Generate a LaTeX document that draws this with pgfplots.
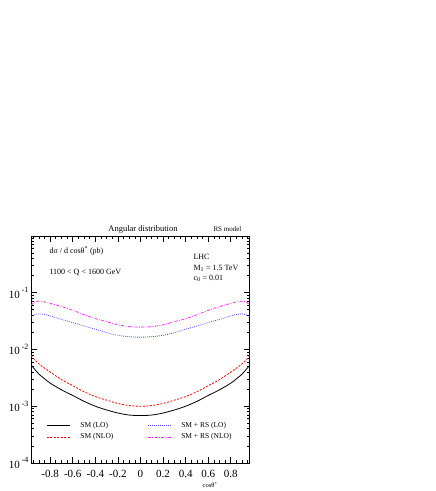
\documentclass[border=0pt]{standalone}
\usepackage{fontspec}
\setmainfont{Liberation Serif}
\usepackage{pgfplots}
\pgfplotsset{compat=1.18}
\definecolor{rslo}{RGB}{70,70,255}
\definecolor{rsnlo}{RGB}{240,40,240}
\begin{document}
\begin{tikzpicture}[x=1pt,y=1pt]
\path[use as bounding box] (0,0) rectangle (436,491);
\begin{axis}[
  at={(31pt,28pt)}, anchor=south west,
  scale only axis, width=219pt, height=227pt,
  xmin=-0.97, xmax=0.97,
  ymode=log, ymin=1e-4, ymax=1,
  axis line style={line width=1pt},
  xtick={-0.8,-0.6,-0.4,-0.2,0,0.2,0.4,0.6,0.8},
  xticklabels={-0.8,-0.6,-0.4,-0.2,0,0.2,0.4,0.6,0.8},
  minor xtick={-0.95,-0.9,-0.85,-0.75,-0.7,-0.65,-0.55,-0.5,-0.45,-0.35,-0.3,-0.25,-0.15,-0.1,-0.05,0.05,0.1,0.15,0.25,0.3,0.35,0.45,0.5,0.55,0.65,0.7,0.75,0.85,0.9,0.95},
  ytick={1e-4,1e-3,1e-2,1e-1},
  yticklabels={10\,\raisebox{1.1ex}{\footnotesize -4},10\,\raisebox{1.1ex}{\footnotesize -3},10\,\raisebox{1.1ex}{\footnotesize -2},10\,\raisebox{1.1ex}{\footnotesize -1}},
  minor ytick={2e-4,3e-4,4e-4,5e-4,6e-4,7e-4,8e-4,9e-4,2e-3,3e-3,4e-3,5e-3,6e-3,7e-3,8e-3,9e-3,2e-2,3e-2,4e-2,5e-2,6e-2,7e-2,8e-2,9e-2,0.2,0.3,0.4,0.5,0.6,0.7,0.8,0.9},
  major tick length=6pt, minor tick length=3pt,
  tick style={black, line width=0.7pt},
  tick label style={font=\fontsize{11}{13}\selectfont},
  xticklabel style={yshift=-4pt},
  yticklabel style={xshift=1pt},
  legend style={draw=none, fill=none, at={(axis description cs:0.07,0.19)}, anchor=north west,
    font=\fontsize{7.5}{9}\selectfont, row sep=1pt, column sep=8pt, inner sep=0pt,
    /tikz/every even column/.append style={column sep=32pt}},
  legend columns=2, transpose legend, legend cell align=left,
  legend image code/.code={\draw[#1] (0pt,0pt) -- (23pt,0pt);},
]
\addplot[black, line width=0.8pt, smooth] coordinates {
(-0.97,5.3e-3) (-0.95,4.8e-3) (-0.9,3.7e-3) (-0.85,3.05e-3) (-0.8,2.55e-3) (-0.7,1.95e-3) (-0.6,1.55e-3) (-0.5,1.22e-3) (-0.4,1.0e-3) (-0.3,8.6e-4) (-0.2,7.6e-4) (-0.1,7.0e-4) (0,6.85e-4)
(0.1,7.0e-4) (0.2,7.6e-4) (0.3,8.6e-4) (0.4,1.0e-3) (0.5,1.22e-3) (0.6,1.55e-3) (0.7,1.95e-3) (0.8,2.55e-3) (0.85,3.05e-3) (0.9,3.7e-3) (0.95,4.8e-3) (0.97,5.3e-3)};
\addlegendentry{SM (LO)}
\addplot[red, line width=0.8pt, smooth, dash pattern=on 2pt off 1.5pt] coordinates {
(-0.97,7.9e-3) (-0.95,7.0e-3) (-0.9,5.6e-3) (-0.85,4.7e-3) (-0.8,4.0e-3) (-0.7,2.95e-3) (-0.6,2.3e-3) (-0.5,1.8e-3) (-0.4,1.48e-3) (-0.3,1.28e-3) (-0.2,1.12e-3) (-0.1,1.03e-3) (0,1.0e-3)
(0.1,1.03e-3) (0.2,1.12e-3) (0.3,1.28e-3) (0.4,1.48e-3) (0.5,1.8e-3) (0.6,2.3e-3) (0.7,2.95e-3) (0.8,4.0e-3) (0.85,4.7e-3) (0.9,5.6e-3) (0.95,7.0e-3) (0.97,7.9e-3)};
\addlegendentry{SM (NLO)}
\addplot[rslo, line width=0.8pt, smooth, dash pattern=on 0.8pt off 1.2pt] coordinates {
(-0.97,3.75e-2) (-0.93,4.15e-2) (-0.9,4.25e-2) (-0.85,4.15e-2) (-0.8,3.9e-2) (-0.7,3.4e-2) (-0.6,2.98e-2) (-0.5,2.6e-2) (-0.4,2.28e-2) (-0.3,1.98e-2) (-0.2,1.78e-2) (-0.1,1.68e-2) (0,1.65e-2)
(0.1,1.68e-2) (0.2,1.78e-2) (0.3,1.98e-2) (0.4,2.28e-2) (0.5,2.6e-2) (0.6,2.98e-2) (0.7,3.4e-2) (0.8,3.9e-2) (0.85,4.15e-2) (0.9,4.25e-2) (0.93,4.15e-2) (0.97,3.75e-2)};
\addlegendentry{SM + RS (LO)}
\addplot[rsnlo, line width=0.8pt, smooth, dash pattern=on 3pt off 1.5pt on 0.8pt off 1.5pt] coordinates {
(-0.97,6.0e-2) (-0.93,7.0e-2) (-0.9,7.1e-2) (-0.85,6.9e-2) (-0.8,6.5e-2) (-0.7,5.7e-2) (-0.6,4.9e-2) (-0.5,4.1e-2) (-0.4,3.5e-2) (-0.3,3.1e-2) (-0.2,2.72e-2) (-0.1,2.53e-2) (0,2.48e-2)
(0.1,2.53e-2) (0.2,2.72e-2) (0.3,3.1e-2) (0.4,3.5e-2) (0.5,4.1e-2) (0.6,4.9e-2) (0.7,5.7e-2) (0.8,6.5e-2) (0.85,6.9e-2) (0.9,7.1e-2) (0.93,7.0e-2) (0.97,6.0e-2)};
\addlegendentry{SM + RS (NLO)}
\end{axis}
\node[anchor=base, font=\fontsize{8.5}{10}\selectfont] at (143,259) {Angular distribution};
\node[anchor=base west, font=\fontsize{7}{8}\selectfont] at (210,259) {RS model};
\node[anchor=west, font=\fontsize{8}{10}\selectfont] at (46,240) {dσ / d cosθ\textsuperscript{*} (pb)};
\node[anchor=west, font=\fontsize{8}{10}\selectfont] at (46,219) {1100 < Q < 1600 GeV};
\node[anchor=west, font=\fontsize{8}{10}\selectfont] at (190,234) {LHC};
\node[anchor=west, font=\fontsize{8}{10}\selectfont] at (190,223) {M\textsubscript{1} = 1.5 TeV};
\node[anchor=west, font=\fontsize{8}{10}\selectfont] at (190,213) {c\textsubscript{0} = 0.01};
\node[font=\fontsize{6.5}{8}\selectfont] at (210,6) {cosθ\textsuperscript{*}};
\end{tikzpicture}
\end{document}
